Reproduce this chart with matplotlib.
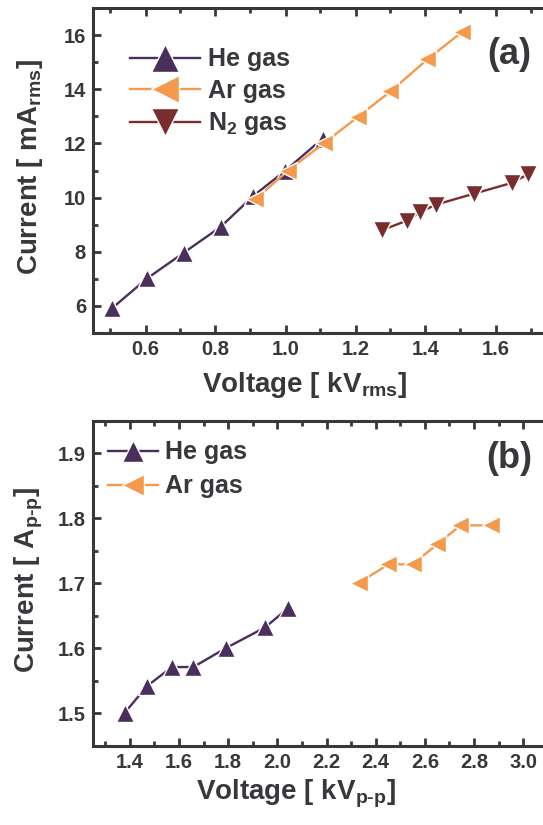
import matplotlib
matplotlib.use("Agg")
import matplotlib.pyplot as plt
from matplotlib.ticker import MultipleLocator

# ---- data panel (a) ----
he_a_v = [0.505, 0.605, 0.71, 0.815, 0.907, 1.0, 1.106]
he_a_i = [5.92, 7.02, 7.97, 8.92, 10.05, 11.0, 12.18]
ar_a_v = [0.914, 1.007, 1.109, 1.207, 1.30, 1.405, 1.505]
ar_a_i = [9.93, 11.0, 12.0, 12.98, 13.92, 15.1, 16.12]
n2_a_v = [1.276, 1.347, 1.384, 1.43, 1.54, 1.646, 1.693]
n2_a_i = [8.8, 9.15, 9.46, 9.74, 10.15, 10.54, 10.86]

# ---- data panel (b) ----
he_b_v = [1.38, 1.469, 1.571, 1.658, 1.79, 1.95, 2.045]
he_b_i = [1.501, 1.5415, 1.571, 1.571, 1.600, 1.632, 1.662]
ar_b_v = [2.333, 2.452, 2.55, 2.651, 2.745, 2.871]
ar_b_i = [1.701, 1.729, 1.729, 1.760, 1.789, 1.789]

labels = ["He gas", "Ar gas", "N$_2$ gas"]

C_HE = "#4a2f5c"
C_AR = "#f59a4c"
C_N2 = "#7a2d2d"
C_TXT = "#38383c"

plt.rcParams["font.family"] = ["Liberation Sans", "DejaVu Sans"]
plt.rcParams["font.weight"] = "bold"
plt.rcParams["mathtext.fontset"] = "custom"
plt.rcParams["mathtext.rm"] = "Liberation Sans:bold"
plt.rcParams["mathtext.it"] = "Liberation Sans:bold"
plt.rcParams["mathtext.bf"] = "Liberation Sans:bold"
plt.rcParams["mathtext.default"] = "rm"
plt.rcParams["text.color"] = C_TXT

fig = plt.figure(figsize=(5.43, 8.25), dpi=100)
W, H = 543.0, 825.0

axA = fig.add_axes([93 / W, (H - 333) / H, 455 / W, 325 / H])
axB = fig.add_axes([93 / W, (H - 745.7) / H, 455 / W, 325 / H])


def style(ax):
    for s in ["left", "bottom", "top"]:
        ax.spines[s].set_linewidth(2.2)
        ax.spines[s].set_color(C_TXT)
    ax.spines["right"].set_visible(False)
    ax.tick_params(which="both", direction="in", color=C_TXT, width=2,
                   top=True, right=False, labelsize=14.5, labelcolor=C_TXT)
    ax.tick_params(which="major", length=5.5, pad=5)
    ax.tick_params(which="minor", length=3.5)
    for lab in ax.get_xticklabels() + ax.get_yticklabels():
        lab.set_fontweight("bold")


mk = dict(markersize=13.5, markeredgecolor="white", markeredgewidth=1.0, linewidth=1.7)

axA.plot(he_a_v, he_a_i, color=C_HE, marker="^", markerfacecolor=C_HE, label=labels[0], zorder=3, **mk)
axA.plot(ar_a_v, ar_a_i, color=C_AR, marker="<", markerfacecolor=C_AR, label=labels[1], zorder=4, **mk)
axA.plot(n2_a_v, n2_a_i, color=C_N2, marker="v", markerfacecolor=C_N2, label=labels[2], zorder=3, **mk)
axA.set_xlim(0.45, 1.75)
axA.set_ylim(5, 17)
axA.xaxis.set_major_locator(MultipleLocator(0.2))
axA.xaxis.set_minor_locator(MultipleLocator(0.1))
axA.yaxis.set_major_locator(MultipleLocator(2))
axA.yaxis.set_minor_locator(MultipleLocator(1))
style(axA)
axA.set_xlabel("Voltage [ kV$_{rms}$]", fontsize=20, fontweight="bold", color=C_TXT)
axA.set_ylabel("Current [ mA$_{rms}$]", fontsize=20, fontweight="bold", color=C_TXT)
axA.xaxis.set_label_coords(0.464, -0.115)
axA.yaxis.set_label_coords(-0.105, 0.51)
legA = axA.legend(loc="upper left", bbox_to_anchor=(0.06, 0.91), frameon=False,
                  fontsize=18, markerscale=1.5, handlelength=2.8, handletextpad=0.3,
                  labelspacing=0.3, borderaxespad=0)
for t in legA.get_texts():
    t.set_fontweight("bold")
    t.set_color(C_TXT)
axA.text(0.915, 0.858, "(a)", transform=axA.transAxes, fontsize=26, fontweight="bold",
         ha="center", va="center", color=C_TXT)

mk_b = dict(markersize=12.5, markeredgecolor="white", markeredgewidth=1.0, linewidth=1.7)
axB.plot(he_b_v, he_b_i, color=C_HE, marker="^", markerfacecolor=C_HE, label=labels[0], zorder=3, **mk_b)
axB.plot(ar_b_v, ar_b_i, color=C_AR, marker="<", markerfacecolor=C_AR, label=labels[1], zorder=3, **mk_b)
axB.set_xlim(1.25, 1.25 + 455 / 245.8)
axB.set_ylim(1.45, 1.95)
axB.xaxis.set_major_locator(MultipleLocator(0.2))
axB.xaxis.set_minor_locator(MultipleLocator(0.1))
axB.yaxis.set_major_locator(MultipleLocator(0.1))
axB.yaxis.set_minor_locator(MultipleLocator(0.05))
style(axB)
axB.set_xlabel("Voltage [ kV$_{p\\text{-}p}$]", fontsize=20, fontweight="bold", color=C_TXT)
axB.set_ylabel("Current [ A$_{p\\text{-}p}$]", fontsize=20, fontweight="bold", color=C_TXT)
axB.xaxis.set_label_coords(0.446, -0.10)
axB.yaxis.set_label_coords(-0.105, 0.51)
legB = axB.legend(loc="upper left", bbox_to_anchor=(0.01, 0.97), frameon=False,
                  fontsize=18, markerscale=1.25, handlelength=2.0, handletextpad=0.3,
                  labelspacing=0.4, borderaxespad=0)
for t in legB.get_texts():
    t.set_fontweight("bold")
    t.set_color(C_TXT)
axB.text(0.915, 0.885, "(b)", transform=axB.transAxes, fontsize=26, fontweight="bold",
         ha="center", va="center", color=C_TXT)

fig.savefig("out.png", dpi=100)
